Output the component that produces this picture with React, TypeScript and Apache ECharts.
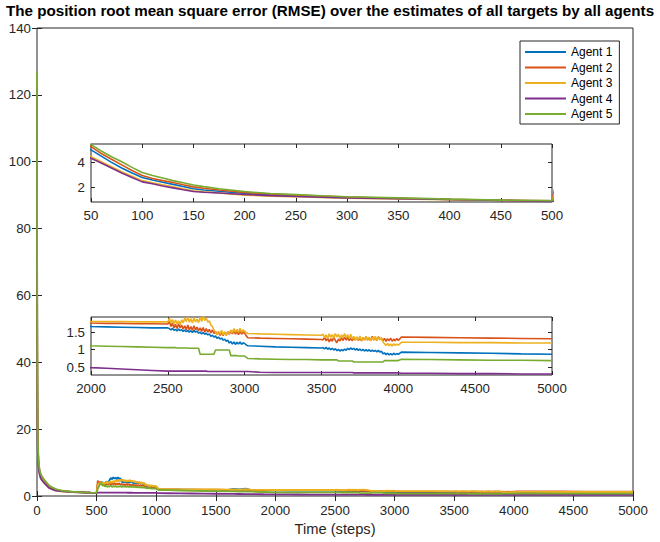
import React, { useEffect, useRef } from 'react';
import * as echarts from 'echarts';

const agentNames = ['Agent 1', 'Agent 2', 'Agent 3', 'Agent 4', 'Agent 5'];
const agentColors = ['#0072BD', '#D95319', '#EDB120', '#7E2F8E', '#77AC30'];

const titleText = 'The position root mean square error (RMSE) over the estimates of all targets by all agents';
const xAxisName = 'Time (steps)';

const steps = [
  0, 1, 2, 3, 5, 8, 12, 20, 30, 40, 50, 60, 70, 80, 90, 100, 110, 120, 130, 140, 150, 160, 175, 200, 225, 250, 275, 300, 350, 400, 450, 500,
  510, 520, 530, 540, 550, 560, 570, 580, 590, 600,
  610, 620, 630, 640, 650, 660, 670, 680, 690, 700,
  710, 720, 730, 740, 750, 760, 770, 780, 790, 800,
  810, 820, 830, 840, 850, 860, 870, 880, 890, 900,
  910, 920, 930, 940, 950, 960, 970, 980, 990, 1000,
  1020, 1100, 1200, 1300, 1400, 1500, 1600, 1650, 1700, 1750, 1800, 1900, 2000,
  2100, 2200, 2300, 2400, 2500,
  2510, 2520, 2530, 2540, 2550, 2560, 2570, 2580, 2590, 2600,
  2610, 2620, 2630, 2640, 2650, 2660, 2670, 2680, 2690, 2700,
  2710, 2720, 2730, 2740, 2750, 2760, 2770, 2780, 2790, 2800,
  2810, 2820, 2830, 2840, 2850, 2860, 2870, 2880, 2890, 2900,
  2910, 2920, 2930, 2940, 2950, 2960, 2970, 2980, 2990, 3000,
  3020, 3100, 3200, 3300, 3400, 3500,
  3510, 3520, 3530, 3540, 3550, 3560, 3570, 3580, 3590, 3600,
  3610, 3620, 3630, 3640, 3650, 3660, 3670, 3680, 3690, 3700,
  3710, 3720, 3730, 3740, 3750, 3760, 3770, 3780, 3790, 3800,
  3810, 3820, 3830, 3840, 3850, 3860, 3870, 3880, 3890, 3900,
  3910, 3920, 3930, 3940, 3950, 3960, 3970, 3980, 3990, 4000,
  4020, 4200, 4400, 4600, 4800, 5000,
];

const agent1 = [
  124, 64, 40, 30, 20, 13.5, 10, 7.5, 6.1, 5.5, 4.99, 4.5, 4.0, 3.55, 3.15, 2.8, 2.6, 2.42, 2.25, 2.08, 1.9, 1.8, 1.7, 1.52, 1.42, 1.36, 1.28, 1.22, 1.13, 1.05, 0.98, 0.93,
  3.4, 4.1, 3.7, 4.3, 3.8, 4.0, 3.6, 4.4, 3.9, 4.2,
  4.9, 5.4, 5.0, 5.6, 5.2, 5.5, 5.0, 5.6, 5.1, 5.3,
  4.3, 4.0, 4.5, 4.1, 4.4, 3.9, 4.3, 4.0, 4.4, 4.1,
  3.8, 4.1, 3.7, 4.0, 3.8, 4.1, 3.7, 3.9, 3.6, 3.8,
  3.0, 2.8, 3.1, 2.7, 3.0, 2.8, 3.0, 2.7, 2.9, 2.7,
  1.95, 1.93, 1.9, 1.88, 1.86, 1.84, 1.82, 2.1, 1.95, 2.2, 1.76, 1.7, 1.66,
  1.65, 1.64, 1.63, 1.62, 1.62,
  1.6, 1.56, 1.61, 1.55, 1.58, 1.53, 1.59, 1.54, 1.57, 1.52,
  1.56, 1.51, 1.55, 1.5, 1.54, 1.49, 1.55, 1.5, 1.53, 1.47,
  1.5, 1.45, 1.49, 1.44, 1.47, 1.42, 1.45, 1.38, 1.41, 1.36,
  1.39, 1.32, 1.36, 1.3, 1.33, 1.27, 1.3, 1.24, 1.27, 1.19,
  1.23, 1.16, 1.22, 1.15, 1.21, 1.16, 1.22, 1.15, 1.2, 1.17,
  1.11, 1.1, 1.08, 1.07, 1.06, 1.05,
  1.06, 1.02, 1.07, 1.01, 1.05, 1.0, 1.04, 0.99, 1.03, 0.97,
  1.01, 0.96, 1.0, 0.97, 1.02, 0.98, 1.04, 1.0, 1.05, 1.01,
  1.04, 0.99, 1.03, 0.98, 1.02, 0.97, 1.01, 0.96, 1.0, 0.96,
  1.0, 0.95, 0.99, 0.95, 0.98, 0.94, 0.98, 0.93, 0.96, 0.88,
  0.91, 0.86, 0.9, 0.85, 0.89, 0.85, 0.9, 0.86, 0.89, 0.87,
  0.93, 0.92, 0.91, 0.9, 0.88, 0.87,
];

const agent2 = [
  125, 66, 42, 31, 21, 14, 10.5, 7.8, 6.4, 5.8, 5.25, 4.7, 4.25, 3.8, 3.35, 2.95, 2.72, 2.55, 2.4, 2.22, 2.05, 1.94, 1.8, 1.6, 1.48, 1.4, 1.32, 1.24, 1.15, 1.06, 0.99, 0.94,
  4.6, 3.8, 4.2, 3.6, 3.9, 3.5, 3.8, 3.4, 3.7, 3.5,
  3.8, 3.4, 3.7, 3.5, 3.9, 3.4, 3.7, 3.5, 3.8, 3.4,
  3.6, 3.3, 3.5, 3.2, 3.6, 3.3, 3.5, 3.2, 3.4, 3.2,
  3.4, 3.1, 3.3, 3.0, 3.3, 3.1, 3.2, 3.0, 3.2, 3.0,
  2.7, 2.5, 2.7, 2.4, 2.6, 2.5, 2.7, 2.4, 2.6, 2.4,
  2.0, 1.98, 1.95, 1.93, 1.9, 1.88, 1.86, 1.85, 1.84, 1.83, 1.8, 1.78, 1.76,
  1.75, 1.75, 1.74, 1.74, 1.73,
  1.8, 1.66, 1.76, 1.62, 1.72, 1.6, 1.74, 1.62, 1.7, 1.58,
  1.68, 1.57, 1.7, 1.56, 1.66, 1.55, 1.68, 1.56, 1.64, 1.54,
  1.62, 1.52, 1.63, 1.5, 1.6, 1.5, 1.58, 1.48, 1.56, 1.46,
  1.52, 1.43, 1.5, 1.41, 1.49, 1.4, 1.5, 1.42, 1.51, 1.44,
  1.53, 1.45, 1.54, 1.44, 1.52, 1.43, 1.53, 1.44, 1.51, 1.46,
  1.34, 1.33, 1.32, 1.31, 1.3, 1.29,
  1.28, 1.35, 1.25, 1.33, 1.22, 1.31, 1.24, 1.36, 1.26, 1.2,
  1.3, 1.25, 1.34, 1.26, 1.36, 1.27, 1.35, 1.26, 1.33, 1.25,
  1.34, 1.27, 1.36, 1.26, 1.33, 1.25, 1.35, 1.28, 1.37, 1.27,
  1.34, 1.26, 1.38, 1.28, 1.35, 1.26, 1.37, 1.29, 1.33, 1.25,
  1.32, 1.24, 1.31, 1.25, 1.33, 1.24, 1.3, 1.25, 1.32, 1.26,
  1.36, 1.35, 1.34, 1.33, 1.32, 1.31,
];

const agent3 = [
  124, 63, 39, 29, 19.5, 13, 9.7, 7.1, 5.7, 4.95, 4.45, 4.05, 3.65, 3.25, 2.9, 2.55, 2.38, 2.22, 2.06, 1.9, 1.75, 1.66, 1.56, 1.4, 1.32, 1.27, 1.21, 1.16, 1.1, 1.03, 0.97, 0.92,
  3.3, 3.9, 3.5, 4.2, 3.6, 4.0, 3.7, 4.3, 3.8, 4.1,
  3.9, 4.4, 4.0, 4.5, 4.2, 4.7, 4.3, 4.8, 4.4, 4.9,
  4.5, 4.9, 4.4, 4.8, 4.3, 4.7, 4.4, 4.8, 4.3, 4.6,
  4.2, 4.5, 4.0, 4.3, 3.9, 4.2, 3.8, 4.1, 3.7, 3.9,
  3.2, 3.5, 3.0, 3.3, 2.9, 3.2, 2.9, 3.1, 2.8, 3.0,
  2.05, 2.03, 2.0, 1.98, 1.96, 1.94, 1.92, 2.0, 1.9, 2.05, 1.86, 1.83, 1.8,
  1.8, 1.8, 1.79, 1.79, 1.79,
  1.9, 1.76, 1.86, 1.73, 1.84, 1.74, 1.82, 1.71, 1.85, 1.76,
  1.9, 1.8, 1.93, 1.78, 1.88, 1.76, 1.91, 1.79, 1.87, 1.77,
  1.92, 1.8, 1.95, 1.83, 1.9, 1.78, 1.82, 1.7, 1.66, 1.56,
  1.5, 1.42, 1.52, 1.44, 1.55, 1.42, 1.5, 1.4, 1.52, 1.46,
  1.56, 1.48, 1.6, 1.5, 1.58, 1.49, 1.61, 1.5, 1.57, 1.52,
  1.46, 1.45, 1.44, 1.43, 1.42, 1.41,
  1.44, 1.34, 1.42, 1.32, 1.45, 1.35, 1.43, 1.33, 1.46, 1.36,
  1.44, 1.33, 1.42, 1.35, 1.46, 1.34, 1.43, 1.32, 1.44, 1.3,
  1.38, 1.27, 1.36, 1.28, 1.39, 1.26, 1.35, 1.27, 1.37, 1.28,
  1.36, 1.25, 1.35, 1.27, 1.38, 1.26, 1.36, 1.28, 1.34, 1.22,
  1.17, 1.12, 1.18, 1.11, 1.16, 1.1, 1.17, 1.12, 1.16, 1.13,
  1.21, 1.21, 1.2, 1.2, 1.19, 1.19,
];

const agent4 = [
  122, 60, 37, 27, 18, 12, 9, 6.8, 5.4, 4.8, 4.32, 3.95, 3.55, 3.15, 2.8, 2.45, 2.3, 2.12, 1.97, 1.82, 1.68, 1.62, 1.56, 1.45, 1.36, 1.29, 1.23, 1.17, 1.12, 1.05, 0.97, 0.9,
  1.02, 1.02, 1.02, 1.02, 1.02, 1.01, 1.01, 1.01, 1.01, 1.01,
  1.0, 1.0, 1.0, 1.0, 1.0, 0.99, 0.99, 0.99, 0.99, 0.99,
  0.98, 0.98, 0.98, 0.98, 0.98, 0.97, 0.97, 0.97, 0.97, 0.97,
  0.96, 0.96, 0.96, 0.96, 0.96, 0.95, 0.95, 0.95, 0.95, 0.95,
  0.94, 0.94, 0.94, 0.94, 0.94, 0.94, 0.93, 0.93, 0.93, 0.93,
  0.85, 0.82, 0.78, 0.75, 0.72, 0.68, 0.64, 0.62, 0.6, 0.58, 0.56, 0.52, 0.49,
  0.47, 0.45, 0.43, 0.41, 0.39,
  0.39, 0.39, 0.39, 0.39, 0.39, 0.39, 0.39, 0.39, 0.39, 0.39,
  0.39, 0.39, 0.39, 0.39, 0.39, 0.39, 0.39, 0.39, 0.39, 0.39,
  0.39, 0.39, 0.39, 0.39, 0.39, 0.38, 0.38, 0.38, 0.38, 0.38,
  0.38, 0.38, 0.38, 0.38, 0.38, 0.38, 0.38, 0.38, 0.38, 0.38,
  0.38, 0.38, 0.38, 0.38, 0.38, 0.38, 0.38, 0.38, 0.38, 0.38,
  0.38, 0.36, 0.35, 0.35, 0.35, 0.35,
  0.35, 0.35, 0.35, 0.35, 0.35, 0.35, 0.35, 0.35, 0.35, 0.35,
  0.35, 0.35, 0.35, 0.35, 0.35, 0.35, 0.35, 0.35, 0.35, 0.35,
  0.34, 0.34, 0.34, 0.34, 0.34, 0.34, 0.34, 0.34, 0.34, 0.34,
  0.34, 0.34, 0.34, 0.34, 0.34, 0.34, 0.34, 0.34, 0.34, 0.34,
  0.34, 0.34, 0.34, 0.34, 0.34, 0.34, 0.34, 0.34, 0.34, 0.34,
  0.33, 0.33, 0.32, 0.32, 0.31, 0.31,
];

const agent5 = [
  127, 70, 45, 33, 22, 15, 11, 8.2, 6.7, 6.0, 5.41, 4.9, 4.45, 4.05, 3.6, 3.2, 2.95, 2.75, 2.55, 2.38, 2.2, 2.07, 1.9, 1.68, 1.52, 1.44, 1.35, 1.27, 1.18, 1.08, 1.0, 0.96,
  2.2, 2.9, 3.6, 3.9, 3.0, 3.4, 2.8, 3.2, 2.7, 3.0,
  2.8, 3.1, 2.7, 3.0, 2.8, 3.0, 2.7, 2.9, 2.8, 3.0,
  2.7, 2.9, 2.8, 2.9, 2.7, 2.9, 2.7, 2.8, 2.7, 2.8,
  2.6, 2.8, 2.6, 2.7, 2.6, 2.7, 2.5, 2.7, 2.5, 2.6,
  2.4, 2.3, 2.4, 2.3, 2.4, 2.2, 2.3, 2.2, 2.3, 2.1,
  1.8, 1.75, 1.65, 1.55, 1.5, 1.45, 1.4, 1.38, 1.35, 1.32, 1.28, 1.2, 1.11,
  1.1, 1.09, 1.08, 1.07, 1.06,
  1.06, 1.06, 1.06, 1.06, 1.06, 1.05, 1.05, 1.05, 1.05, 1.05,
  1.05, 1.05, 1.05, 1.04, 1.04, 1.04, 1.04, 1.04, 1.04, 1.04,
  0.87, 0.87, 0.87, 0.87, 0.87, 0.87, 0.87, 0.87, 0.87, 0.87,
  0.99, 0.99, 0.99, 0.99, 0.99, 0.99, 0.99, 0.99, 0.99, 0.99,
  0.83, 0.83, 0.83, 0.83, 0.83, 0.82, 0.82, 0.82, 0.82, 0.82,
  0.75, 0.74, 0.73, 0.72, 0.72, 0.71,
  0.71, 0.71, 0.71, 0.71, 0.71, 0.71, 0.71, 0.71, 0.71, 0.71,
  0.68, 0.68, 0.68, 0.68, 0.68, 0.68, 0.68, 0.68, 0.68, 0.68,
  0.65, 0.65, 0.65, 0.65, 0.65, 0.65, 0.65, 0.65, 0.65, 0.65,
  0.65, 0.65, 0.65, 0.65, 0.65, 0.65, 0.65, 0.65, 0.65, 0.65,
  0.69, 0.69, 0.69, 0.69, 0.69, 0.69, 0.69, 0.69, 0.69, 0.69,
  0.73, 0.72, 0.71, 0.7, 0.7, 0.69,
];

const agentValues = [agent1, agent2, agent3, agent4, agent5];

// axis ranges and tick labels
const mainXRange = [0, 5000];
const mainYRange = [0, 140];
const mainXStep = 500;
const mainYStep = 20;
const earlyXRange = [50, 500];
const earlyXStep = 50;
const earlyYRange = [0.85, 5.46];
const earlyYTicks = [2, 4];
const lateXRange = [2000, 5000];
const lateXStep = 500;
const lateYRange = [0.28, 1.93];
const lateYTicks = [0.5, 1, 1.5];

const AX = '#262626';
const FONT = '"Liberation Sans", Arial, Helvetica, sans-serif';
const fmt = (v: number) => String(v);

function xAxisPair(grid: number, range: number[], step: number, tickLen: number, margin: number, extra: any = {}) {
  const base = {
    type: 'value', gridIndex: grid, min: range[0], max: range[1], interval: step,
    splitLine: { show: false }, axisLine: { show: false },
    axisTick: { show: true, inside: true, length: tickLen, lineStyle: { color: AX, width: 1 } },
  };
  return [
    { ...base, position: 'bottom', axisLabel: { show: true, color: AX, fontSize: 13.3, fontFamily: FONT, margin, formatter: fmt }, ...extra },
    { ...base, position: 'top', axisLabel: { show: false } },
  ];
}

function yAxisPair(grid: number, range: number[], step: number | null, ticks: number[] | null, tickLen: number, margin: number) {
  const base: any = {
    type: 'value', gridIndex: grid, min: range[0], max: range[1],
    splitLine: { show: false }, axisLine: { show: false },
    axisTick: { show: true, inside: true, length: tickLen, lineStyle: { color: AX, width: 1 } },
  };
  if (step != null) base.interval = step;
  if (ticks) base.axisTick = { ...base.axisTick, customValues: ticks };
  const label: any = { show: true, color: AX, fontSize: 13.3, fontFamily: FONT, margin, formatter: fmt };
  if (ticks) label.customValues = ticks;
  return [
    { ...base, position: 'left', axisLabel: label },
    { ...base, position: 'right', axisLabel: { show: false } },
  ];
}

function seriesFor(axisIndex: number, width: number) {
  return agentValues.map((vals, i) => ({
    type: 'line',
    name: agentNames[i],
    xAxisIndex: axisIndex,
    yAxisIndex: axisIndex,
    data: steps.map((t, k) => [t, vals[k]]),
    showSymbol: false,
    symbol: 'none',
    clip: true,
    silent: true,
    lineStyle: { color: agentColors[i], width },
    itemStyle: { color: agentColors[i] },
  }));
}

export default function App() {
  const ref = useRef<HTMLDivElement>(null);
  useEffect(() => {
    const chart = echarts.init(ref.current!, null, { renderer: 'svg' });
    const option: any = {
      animation: false,
      backgroundColor: '#ffffff',
      title: {
        text: titleText, left: 'center', top: 0, padding: [2, 5, 0, 5],
        textStyle: { fontSize: 15.2, lineHeight: 16, fontWeight: 'bold', color: '#000', fontFamily: FONT },
      },
      legend: {
        data: agentNames, orient: 'vertical', left: 520, top: 41,
        icon: 'rect', itemWidth: 41, itemHeight: 2, itemGap: 1.5, padding: [4, 7, 3, 5],
        backgroundColor: '#fff', borderColor: AX, borderWidth: 1, borderRadius: 0,
        textStyle: { fontSize: 12, lineHeight: 14, color: '#000', fontFamily: FONT },
      },
      grid: [
        { left: 37, top: 28, width: 596, height: 468, show: true, borderColor: AX, borderWidth: 1, backgroundColor: '#fff', containLabel: false },
        { left: 91, top: 144, width: 461, height: 58, show: true, borderColor: AX, borderWidth: 1, backgroundColor: '#fff', containLabel: false },
        { left: 91, top: 317, width: 461, height: 58, show: true, borderColor: AX, borderWidth: 1, backgroundColor: '#fff', containLabel: false },
      ],
      xAxis: [
        ...xAxisPair(0, mainXRange, mainXStep, 5, 8, {
          name: xAxisName, nameLocation: 'middle', nameGap: 24,
          nameTextStyle: { fontSize: 14.7, color: AX, fontFamily: FONT },
        }),
        ...xAxisPair(1, earlyXRange, earlyXStep, 4, 7),
        ...xAxisPair(2, lateXRange, lateXStep, 4, 7),
      ],
      yAxis: [
        ...yAxisPair(0, mainYRange, mainYStep, null, 5, 6),
        ...yAxisPair(1, earlyYRange, null, earlyYTicks, 4, 6),
        ...yAxisPair(2, lateYRange, null, lateYTicks, 4, 6),
      ],
      series: [
        ...seriesFor(0, 1.8),
        ...seriesFor(2, 1.6),
        ...seriesFor(4, 1.6),
      ],
    };
    chart.setOption(option);
    return () => chart.dispose();
  }, []);
  return <div ref={ref} style={{ position: 'absolute', left: 0, top: 0, width: 660, height: 542 }} />;
}
